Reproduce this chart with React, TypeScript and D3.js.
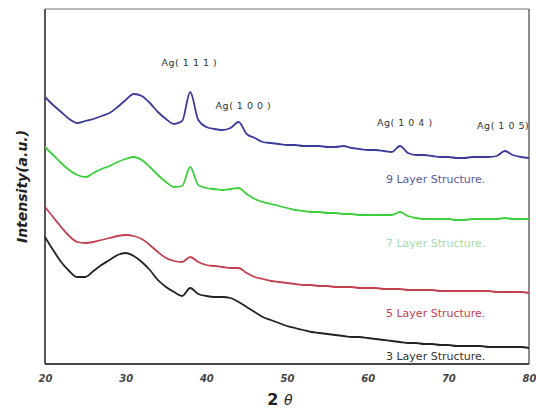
import React, { useEffect, useRef } from "react";
import * as d3 from "d3";

// 2-theta grid (degrees)
const twoTheta = d3.range(20, 81, 1);

// intensity (a.u.)
const layer9 = [267, 259, 252, 245, 241, 243, 245, 248, 251, 257, 264, 270, 268, 261, 252, 245, 240, 243, 272, 244, 237, 235, 234, 236, 242, 230, 226, 222, 221, 220, 219, 219, 218, 218, 218, 217, 217, 218, 216, 215, 214, 214, 213, 212, 218, 211, 209, 209, 208, 207, 207, 206, 206, 207, 207, 207, 208, 213, 209, 207, 206];
const layer7 = [217, 209, 201, 194, 189, 187, 191, 195, 198, 202, 205, 207, 204, 197, 189, 182, 177, 178, 197, 179, 176, 175, 174, 175, 176, 170, 165, 162, 160, 158, 156, 154, 153, 152, 152, 151, 151, 150, 150, 149, 149, 149, 149, 149, 152, 148, 146, 145, 145, 145, 145, 144, 144, 145, 145, 145, 145, 146, 145, 145, 145];
const layer5 = [157, 147, 137, 128, 122, 121, 122, 124, 126, 128, 129, 128, 125, 119, 112, 106, 103, 102, 107, 102, 99, 98, 97, 96, 96, 91, 87, 85, 83, 82, 81, 80, 79, 79, 78, 78, 77, 77, 77, 76, 76, 76, 75, 75, 75, 74, 74, 74, 74, 73, 73, 73, 73, 73, 73, 73, 72, 72, 72, 72, 71];
const layer3 = [127, 114, 102, 93, 87, 87, 93, 99, 104, 109, 111, 108, 102, 94, 84, 77, 72, 68, 76, 70, 68, 67, 67, 66, 62, 57, 52, 47, 44, 41, 38, 36, 34, 32, 31, 30, 29, 28, 27, 27, 26, 25, 24, 23, 22, 21, 21, 20, 20, 19, 19, 18, 18, 18, 18, 17, 17, 17, 17, 17, 16];

const seriesNames = ["9 Layer Structure.", "7 Layer Structure.", "5 Layer Structure.", "3 Layer Structure."];
const seriesValues = [layer9, layer7, layer5, layer3];
const lineColors = ["#3c3b98", "#3ccf3c", "#c2404f", "#222222"];
const labelColors = ["#5a5a9c", "#a6dca6", "#c2404f", "#333333"];
const labelY = [183, 247, 317, 360];

const peakNames = ["Ag( 1 1 1 )", "Ag( 1 0 0 )", "Ag( 1 0 4 )", "Ag( 1 0 5)"];
const peakAt = [37.9, 44.6, 64.6, 76.8];
const peakTextY = [66, 109, 126, 129];

const xTicks = [20, 30, 40, 50, 60, 70, 80];

export default function App() {
  const axisRef = useRef<SVGGElement>(null);
  const width = 536,
    height = 414;
  const margin = { top: 9, right: 7, bottom: 50, left: 45 };

  const x = d3.scaleLinear().domain([20, 80]).range([margin.left, width - margin.right]);
  const y = d3.scaleLinear().domain([0, 355]).range([height - margin.bottom, margin.top]);

  const line = d3
    .line<number>()
    .x((d, i) => x(twoTheta[i]))
    .y(d => y(d))
    .curve(d3.curveMonotoneX);

  useEffect(() => {
    const g = d3.select(axisRef.current);
    g.call(d3.axisBottom(x).tickValues(xTicks).tickSize(0).tickPadding(11).tickFormat(d3.format("d")));
    g.select(".domain").remove();
    g.selectAll("text")
      .attr("font-family", "DejaVu Sans")
      .attr("font-style", "italic")
      .attr("font-weight", "bold")
      .attr("font-size", 10)
      .attr("fill", "#444");
  }, []);

  return (
    <svg width={width} height={height} style={{ position: "absolute", left: 0, top: 0 }}>
      <rect width={width} height={height} fill="#fff" />
      {/* frame */}
      <line x1={margin.left} x2={width - margin.right} y1={margin.top} y2={margin.top} stroke="#777" strokeWidth={1.2} />
      <line x1={width - margin.right} x2={width - margin.right} y1={margin.top} y2={height - margin.bottom} stroke="#666" strokeWidth={1.5} />
      <line x1={margin.left} x2={margin.left} y1={margin.top} y2={height - margin.bottom} stroke="#444" strokeWidth={1.8} />
      <line x1={margin.left} x2={width - margin.right} y1={height - margin.bottom} y2={height - margin.bottom} stroke="#444" strokeWidth={1.8} />

      {seriesValues.map((vals, i) => (
        <path key={i} d={line(vals) || ""} fill="none" stroke={lineColors[i]} strokeWidth={1.8} strokeLinejoin="round" />
      ))}

      {seriesNames.map((n, i) => (
        <text key={n} x={386} y={labelY[i]} fontFamily="DejaVu Sans" fontSize={11} fill={labelColors[i]}>
          {n}
        </text>
      ))}

      {peakNames.map((p, i) => (
        <text key={p} x={x(peakAt[i])} y={peakTextY[i]} textAnchor="middle" fontFamily="DejaVu Sans" fontSize={9.5} fill="#333" letterSpacing={0.5}>
          {p}
        </text>
      ))}

      <g ref={axisRef} transform={`translate(0,${height - margin.bottom})`} />

      <text x={280} y={405} textAnchor="middle" fontFamily="DejaVu Sans" fontWeight="bold" fontSize={16} fill="#222">
        2 <tspan fontStyle="italic" fontWeight="normal" fontSize={14}>θ</tspan>
      </text>

      <text
        transform={`translate(27,${(margin.top + height - margin.bottom) / 2}) rotate(-90)`}
        textAnchor="middle"
        fontFamily="DejaVu Sans"
        fontWeight="bold"
        fontStyle="italic"
        fontSize={14}
        fill="#222"
      >
        Intensity(a.u.)
      </text>
    </svg>
  );
}
